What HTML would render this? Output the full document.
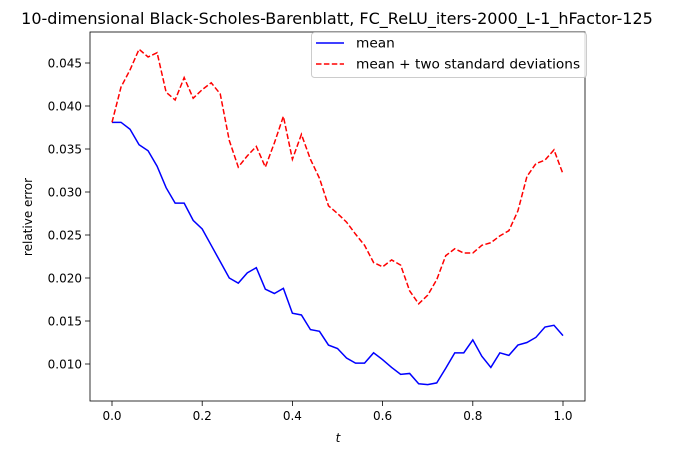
<!DOCTYPE html>
<html><head><meta charset="utf-8"><style>
body{margin:0;background:#fff;font-family:"Liberation Sans","DejaVu Sans",sans-serif}
svg text{font-family:"DejaVu Sans","Liberation Sans",sans-serif;fill:#000}
</style></head><body>
<svg id="c" width="675" height="455"></svg>
<script>
const tValues = Array.from({length:51},(_,i)=>i/50);
const meanValues=[.0381,.0381,.0373,.0355,.0348,.0330,.0305,.0287,.0287,.0267,.0257,.0238,.0219,.0200,.0194,.0206,.0212,.0187,.0182,.0188,.0159,.0157,.0140,.0138,.0122,.0118,.0107,.0101,.0101,.0113,.0105,.0096,.0088,.0089,.0077,.0076,.0078,.0095,.0113,.0113,.0128,.0109,.0096,.0113,.0110,.0122,.0125,.0131,.0143,.0145,.0133];
const upperValues=[.0381,.0422,.0442,.0466,.0457,.0462,.0416,.0407,.0433,.0409,.0419,.0427,.0414,.0360,.0329,.0342,.0353,.0329,.0357,.0388,.0338,.0367,.0338,.0316,.0284,.0275,.0265,.0251,.0238,.0218,.0213,.0221,.0215,.0185,.0170,.0180,.0198,.0226,.0234,.0229,.0229,.0238,.0241,.0249,.0255,.0278,.0318,.0333,.0337,.0349,.0321];
const xTicks=[0,0.2,0.4,0.6,0.8,1.0];
const xTickLabels=["0.0","0.2","0.4","0.6","0.8","1.0"];
const yTicks=[0.010,0.015,0.020,0.025,0.030,0.035,0.040,0.045];
const yTickLabels=["0.010","0.015","0.020","0.025","0.030","0.035","0.040","0.045"];
const L=90,R=585,T=32,B=401;
const xs=v=>112+v*451;
const ys=v=>364-(v-0.010)/0.005*43;
const svg=document.getElementById('c');
const NS='http://www.w3.org/2000/svg';
function mk(tag,attrs,txt){const e=document.createElementNS(NS,tag);for(const k in attrs)e.setAttribute(k,attrs[k]);if(txt!==undefined)e.textContent=txt;svg.appendChild(e);return e;}
let e;
e=mk('text',{x:337,y:24,'text-anchor':'middle','font-size':16},'10-dimensional Black-Scholes-Barenblatt, FC_ReLU_iters-2000_L-1_hFactor-125');


xTicks.forEach((v,i)=>{
 e=mk('line',{x1:xs(v),x2:xs(v),y1:B,y2:B+5,stroke:'#000','stroke-width':0.8});
 
 
 e=mk('text',{x:xs(v),y:B+19,'text-anchor':'middle','font-size':12},xTickLabels[i]);
 
 
});
yTicks.forEach((v,i)=>{
 e=mk('line',{x1:L-5,x2:L,y1:ys(v),y2:ys(v),stroke:'#000','stroke-width':0.8});
 
 
 e=mk('text',{x:L-8,y:ys(v)+4.5,'text-anchor':'end','font-size':12},yTickLabels[i]);
 
 
});
e=mk('text',{x:338,y:442,'text-anchor':'middle','font-size':12,'font-style':'italic'},'t');


e=mk('text',{x:32,y:217,'text-anchor':'middle','font-size':12,transform:'rotate(-90 32 217)'},'relative error');


const pts=a=>a.map((v,i)=>xs(tValues[i])+','+ys(v)).join(' ');
e=mk('polyline',{points:pts(meanValues),fill:'none',stroke:'#0000ff','stroke-width':1.5});


e=mk('polyline',{points:pts(upperValues),fill:'none',stroke:'#ff0000','stroke-width':1.5,'stroke-dasharray':'5.5,2.4'});


e=mk('rect',{x:L,y:T,width:R-L,height:B-T,fill:'none',stroke:'#000','stroke-width':0.8});


e=mk('rect',{x:311.5,y:32.5,width:275,height:45,rx:3,fill:'#fff','fill-opacity':0.8,stroke:'#ccc','stroke-width':1});


e=mk('line',{x1:316,x2:344,y1:43,y2:43,stroke:'#0000ff','stroke-width':1.5});


e=mk('text',{x:356,y:47.5,'font-size':13.7},'mean');


e=mk('line',{x1:316,x2:344,y1:64,y2:64,stroke:'#ff0000','stroke-width':1.5,'stroke-dasharray':'5.5,2.4'});


e=mk('text',{x:356,y:68.5,'font-size':13.7},'mean + two standard deviations');


</script>
</body></html>
